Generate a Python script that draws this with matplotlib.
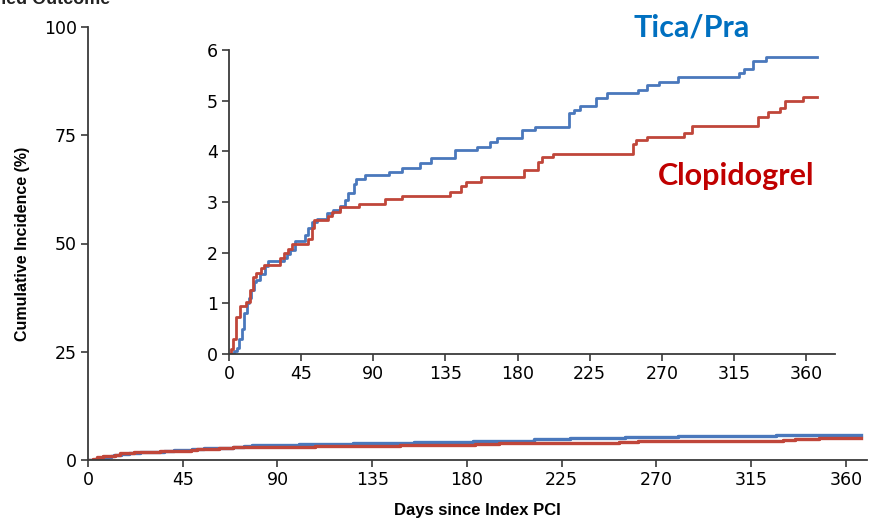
import matplotlib.pyplot as plt

# Kaplan-Meier style cumulative incidence
blue_days = [0, 3, 5, 6.5, 8, 9.5, 11, 12.5, 14, 15.5, 17, 19.5, 22.5, 24.5, 34, 36, 38, 41, 47.5, 49.5,
             51.5, 55, 61, 65, 69, 72.5, 74, 78, 79, 85, 100, 108, 119, 126, 141, 155, 163, 167, 183, 191,
             212, 215, 219, 229, 236, 255, 261, 268, 280, 318, 321, 327, 335, 367]
blue_vals = [0, 0.05, 0.12, 0.3, 0.5, 0.8, 1.0, 1.1, 1.26, 1.42, 1.46, 1.58, 1.73, 1.83, 1.89, 1.98, 2.05, 2.23, 2.35, 2.48,
             2.6, 2.66, 2.78, 2.85, 2.92, 3.03, 3.17, 3.35, 3.45, 3.53, 3.6, 3.68, 3.77, 3.86, 4.02, 4.08, 4.18, 4.26, 4.42, 4.48,
             4.75, 4.81, 4.89, 5.05, 5.15, 5.22, 5.3, 5.36, 5.46, 5.54, 5.62, 5.78, 5.86, 5.86]

red_days = [0, 1.5, 2.5, 4.5, 7, 10.5, 13, 15, 17, 20, 22, 32, 34, 37, 39, 49, 52, 53, 62, 64,
            69, 81, 97, 108, 138, 145, 148, 157, 184, 193, 195, 202, 252, 254, 261, 284, 289, 330, 336, 344,
            347, 358, 367]
red_vals = [0, 0.1, 0.3, 0.73, 0.95, 1.03, 1.26, 1.52, 1.6, 1.7, 1.76, 1.89, 2.0, 2.07, 2.17, 2.27, 2.48, 2.64, 2.72, 2.8,
            2.9, 2.97, 3.05, 3.12, 3.2, 3.31, 3.39, 3.49, 3.63, 3.79, 3.88, 3.94, 4.15, 4.22, 4.28, 4.36, 4.5, 4.67, 4.77, 4.85,
            4.99, 5.07, 5.07]

x_ticks = [0, 45, 90, 135, 180, 225, 270, 315, 360]
main_y_ticks = [0, 25, 50, 75, 100]
inset_y_ticks = [0, 1, 2, 3, 4, 5, 6]

blue = '#4a78bc'
red = '#c0463a'
axis_col = '#3a3a3a'
tick_font = ['Liberation Sans Narrow', 'DejaVu Sans']


def style_axes(ax):
    for s in ['top', 'right']:
        ax.spines[s].set_visible(False)
    for s in ['left', 'bottom']:
        ax.spines[s].set_color(axis_col)
        ax.spines[s].set_linewidth(1.3)
    ax.tick_params(direction='out', length=5, width=1.2, color=axis_col, labelsize=12.5, pad=3)
    for lab in ax.get_xticklabels() + ax.get_yticklabels():
        lab.set_family(tick_font)


fig = plt.figure(figsize=(8.69, 5.21), dpi=100)

# main axes
ax = fig.add_axes([88 / 869, 1 - 460 / 521, 779 / 869, 433 / 521])
ax.step(blue_days, blue_vals, where='post', color=blue, lw=2.4)
ax.step(red_days, red_vals, where='post', color=red, lw=2.4)
ax.set_xlim(0, 370)
ax.set_ylim(0, 100)
ax.set_xticks(x_ticks)
ax.set_yticks(main_y_ticks)
style_axes(ax)
ax.set_xlabel('Days since Index PCI', fontsize=12, fontweight='bold', family='Liberation Sans', labelpad=10)
ax.set_ylabel('Cumulative Incidence (%)', fontsize=11.5, fontweight='bold', family='Liberation Sans', labelpad=10)

# inset axes
ins = fig.add_axes([229 / 869, 1 - 354 / 521, 606 / 869, 304 / 521])
ins.step(blue_days, blue_vals, where='post', color=blue, lw=2.0)
ins.step(red_days, red_vals, where='post', color=red, lw=2.0)
ins.set_xlim(0, 378)
ins.set_ylim(0, 6)
ins.set_xticks(x_ticks)
ins.set_yticks(inset_y_ticks)
ins.patch.set_alpha(0)
style_axes(ins)

fig.text(692 / 869, 1 - 28 / 521, 'Tica/Pra', color='#0070c0', fontsize=22, fontweight='bold',
         family='Lato', ha='center', va='center')
fig.text(736 / 869, 1 - 176 / 521, 'Clopidogrel', color='#c00000', fontsize=22, fontweight='bold',
         family='Lato', ha='center', va='center')

# clipped panel title at the very top edge
fig.text(110 / 869, 1 - 4 / 521, 'Combined Outcome', fontsize=13, fontweight='bold',
         family='Liberation Sans', color='#222222', ha='right', va='baseline')

fig.savefig('out.png', dpi=100)
